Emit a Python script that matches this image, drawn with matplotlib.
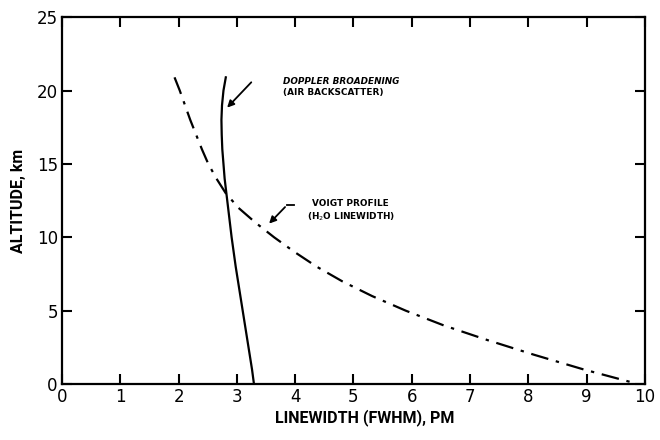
import matplotlib.pyplot as plt

# Voigt profile (H2O linewidth)
voigt_alt = [20.9, 20, 19, 18, 17, 16, 15, 14, 13, 12, 11, 10, 9, 8, 7, 6, 5, 4, 3, 2, 1, 0.15]
voigt_width = [1.93, 2.02, 2.11, 2.20, 2.30, 2.40, 2.51, 2.65, 2.81, 3.03, 3.32, 3.64,
               3.99, 4.37, 4.81, 5.32, 5.90, 6.55, 7.30, 8.10, 8.95, 9.75]

# Doppler broadening (air backscatter)
doppler_alt = [20.9, 20, 19, 18, 17, 16, 15, 14, 13, 12, 11, 10, 9, 8, 7, 6, 5, 4, 3, 2, 1, 0.1]
doppler_width = [2.81, 2.77, 2.745, 2.735, 2.74, 2.75, 2.77, 2.79, 2.82, 2.85, 2.88, 2.91,
                 2.945, 2.98, 3.02, 3.06, 3.10, 3.14, 3.18, 3.22, 3.26, 3.29]

x_ticks = list(range(0, 11))
y_ticks = [0, 5, 10, 15, 20, 25]

fig = plt.figure(figsize=(6.6, 4.4), dpi=100)
ax = fig.add_axes([0.094, 0.127, 0.883, 0.834])

ax.plot(doppler_width, doppler_alt, color='black', lw=1.6)
ax.plot(voigt_width, voigt_alt, color='black', lw=1.6, linestyle=(0, (8, 3.5, 1.5, 3.5)))

ax.set_xlim(0, 10)
ax.set_ylim(0, 25)
ax.set_xticks(x_ticks)
ax.set_yticks(y_ticks)
ax.tick_params(direction='in', top=True, right=True, length=7, width=1.5,
               labelsize=12, pad=3)
for s in ax.spines.values():
    s.set_linewidth(1.6)

ax.set_xlabel('LINEWIDTH (FWHM), PM', fontsize=11.5, fontweight='bold', family='Roboto')
ax.xaxis.set_label_coords(0.52, -0.068)
ax.set_ylabel('ALTITUDE, km', fontsize=11.5, fontweight='bold', family='Roboto')
ax.yaxis.set_label_coords(-0.062, 0.5)

# annotations
txt = dict(fontsize=6.4, fontweight='bold', family='DejaVu Sans', va='center')
ax.text(3.79, 20.6, 'DOPPLER BROADENING', fontstyle='italic', **txt)
ax.text(3.79, 19.9, '(AIR BACKSCATTER)', **txt)
ax.annotate('', xy=(2.80, 18.7), xytext=(3.28, 20.7),
            arrowprops=dict(arrowstyle='-|>', color='black', lw=1.3,
                            mutation_scale=10))

ax.text(4.29, 12.3, 'VOIGT PROFILE', **txt)
ax.text(4.20, 11.4, '(H$_2$O LINEWIDTH)', **txt)
ax.annotate('', xy=(3.52, 10.8), xytext=(3.86, 12.2),
            arrowprops=dict(arrowstyle='-|>', color='black', lw=1.3,
                            mutation_scale=10))
ax.plot([3.86, 3.98], [12.2, 12.2], color='black', lw=1.3)

fig.savefig('out.png', dpi=100)
